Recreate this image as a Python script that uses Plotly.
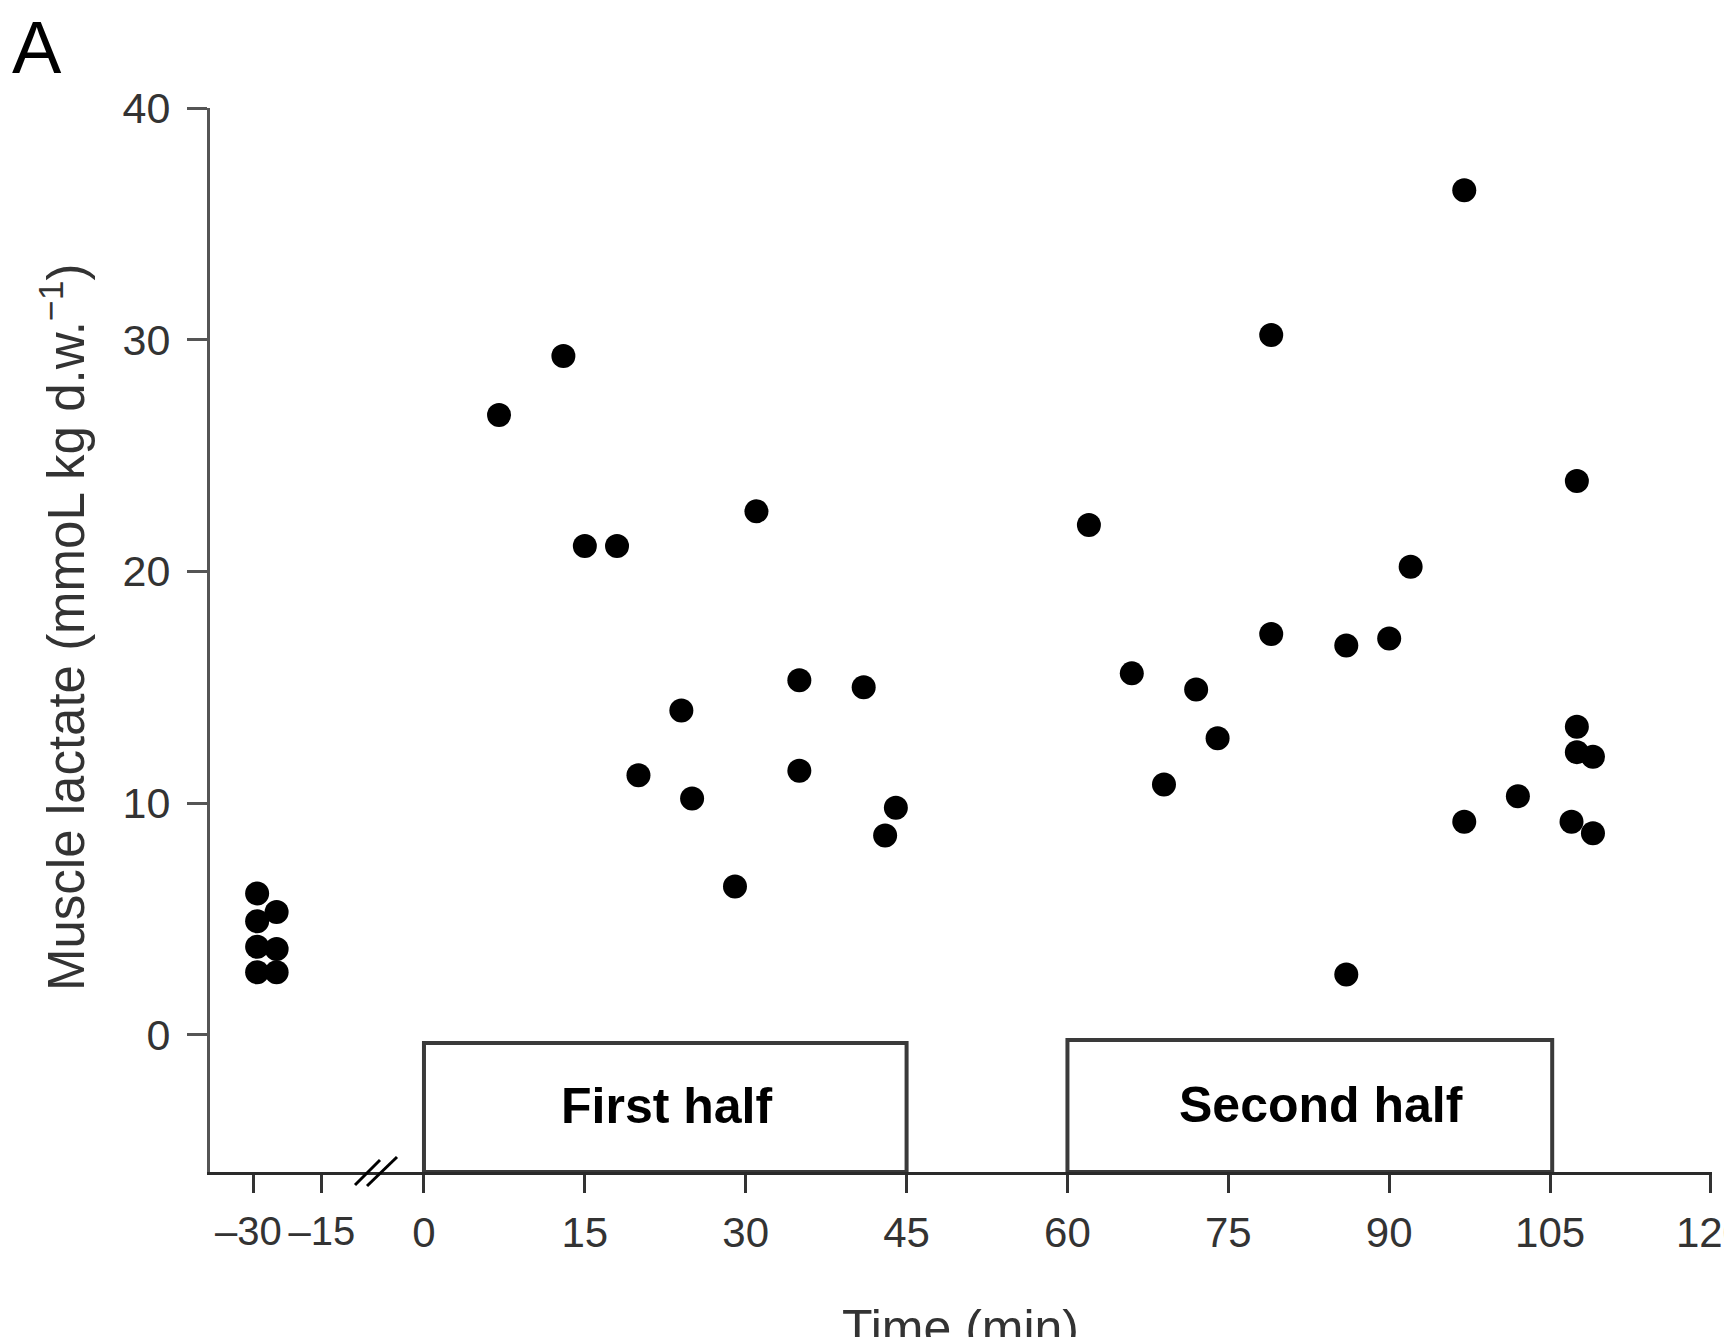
import plotly.graph_objects as go

# ---- data ----
pre_time = [-29.3, -25.0, -29.3, -29.3, -25.0, -29.3, -25.0]
pre_lactate = [6.1, 5.3, 4.9, 3.8, 3.7, 2.7, 2.7]

match_time = [7, 13, 15, 18, 20, 24, 25, 29, 31, 35, 35, 41, 43, 44,
              62, 66, 69, 72, 74, 79, 79, 86, 86, 90, 92, 97, 97, 102,
              107.5, 107.5, 107.5, 109, 107, 109]
match_lactate = [26.75, 29.3, 21.1, 21.1, 11.2, 14.0, 10.2, 6.4, 22.6, 15.3, 11.4, 15.0, 8.6, 9.8,
                 22.0, 15.6, 10.8, 14.9, 12.8, 30.2, 17.3, 16.8, 2.6, 17.1, 20.2, 36.45, 9.2, 10.3,
                 23.9, 13.3, 12.2, 12.0, 9.2, 8.7]

pre_ticks = [-30, -15]
pre_ticktext = ["\u201330\u00a0", "\u201315"]
match_ticks = [0, 15, 30, 45, 60, 75, 90, 105, 120]
y_ticks = [0, 10, 20, 30, 40]

halves = ["First half", "Second half"]
half_start = [0, 60]
half_end = [45, 105.2]
half_top = [-0.35, -0.22]
half_label_x = [22.6, 83.6]

FONT = "Arial, Liberation Sans, sans-serif"
W, H = 1724, 1337
L, R, T, B = 210, 12, 108, 165
split = (377 - L) / (W - L - R)
y_min = -5.92

fig = go.Figure()
marker = dict(color="black", size=24, line=dict(width=0))
fig.add_trace(go.Scatter(x=pre_time, y=pre_lactate, mode="markers", marker=marker,
                         xaxis="x", yaxis="y", showlegend=False))
fig.add_trace(go.Scatter(x=match_time, y=match_lactate, mode="markers", marker=marker,
                         xaxis="x2", yaxis="y", showlegend=False))

common_x = dict(showline=True, linewidth=3, linecolor="#2a2a2a", ticks="outside",
                ticklen=18, tickwidth=3, tickcolor="#333", showgrid=False, zeroline=False,
                anchor="y", ticklabelstandoff=4, tickangle=0, ticklabeloverflow="allow",
                automargin=False)

fig.update_layout(
    width=W, height=H,
    margin=dict(l=L, r=R, t=T, b=B, autoexpand=False),
    paper_bgcolor="white", plot_bgcolor="white",
    xaxis=dict(domain=[0, split], range=[-39.7, -2.85], tickvals=pre_ticks,
               ticktext=pre_ticktext, tickfont=dict(family=FONT, size=40, color="#333"),
               **common_x),
    xaxis2=dict(domain=[split, 1], range=[-4.38, 120.1], tickvals=match_ticks,
                tickfont=dict(family=FONT, size=42, color="#333"), **common_x),
    yaxis=dict(range=[y_min, 40], tickvals=y_ticks, showline=True, linewidth=3,
               linecolor="#555", ticks="outside", ticklen=20, tickwidth=3, tickcolor="#555",
               showgrid=False, zeroline=False, anchor="x", ticklabelstandoff=8,
               automargin=False,
               tickfont=dict(family=FONT, size=43, color="#333")),
)

shapes = []
annotations = []
for name, x0, x1, top, lx in zip(halves, half_start, half_end, half_top, half_label_x):
    shapes.append(dict(type="rect", xref="x2", yref="y", x0=x0, x1=x1, y0=y_min, y1=top,
                       line=dict(color="#3a3a3a", width=4), fillcolor="rgba(0,0,0,0)", layer="above"))
    annotations.append(dict(xref="x2", yref="y", x=lx, y=(y_min + top) / 2 + 0.05,
                            text="<b>%s</b>" % name, showarrow=False,
                            font=dict(family=FONT, size=50, color="black")))

# axis break marks
for dx0, dy0, dx1, dy1 in [(-22, -13, 3, 12), (-10, -14, 20, 15)]:
    shapes.append(dict(type="line", xref="paper", yref="paper", xsizemode="pixel",
                       ysizemode="pixel", xanchor=split, yanchor=0,
                       x0=dx0, y0=dy0, x1=dx1, y1=dy1,
                       line=dict(color="black", width=3)))

annotations.append(dict(xref="paper", yref="paper", x=(960 - L) / (W - L - R),
                        y=(H - B - 1298) / (H - T - B), yanchor="top", xanchor="center",
                        text="Time (min)", showarrow=False,
                        font=dict(family=FONT, size=50, color="#333")))
annotations.append(dict(xref="paper", yref="paper", x=(63 - L) / (W - L - R),
                        y=(H - B - 627) / (H - T - B), xanchor="center", yanchor="middle",
                        text="Muscle lactate (mmoL kg d.w.<sup>\u22121</sup>)", textangle=-90,
                        showarrow=False, font=dict(family=FONT, size=51, color="#333")))
annotations.append(dict(xref="paper", yref="paper", x=(37 - L) / (W - L - R),
                        y=(H - B - 48) / (H - T - B), xanchor="center", yanchor="middle",
                        text="A", showarrow=False, font=dict(family=FONT, size=74, color="black")))

fig.update_layout(shapes=shapes, annotations=annotations)
fig.write_html("out.html")
